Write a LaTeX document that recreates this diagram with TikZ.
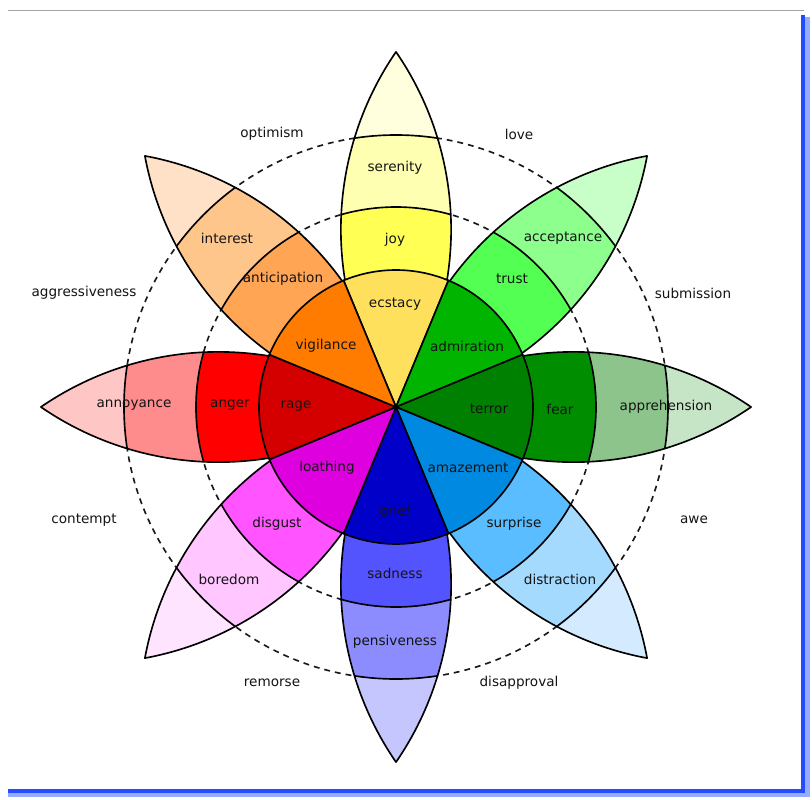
\documentclass[tikz,border=0pt]{standalone}
\usepackage{fontspec}
\setmainfont{DejaVu Sans}
\usepackage{tikz}
\definecolor{ecstacy}{RGB}{255,224,92}
\definecolor{joy}{RGB}{255,255,84}
\definecolor{serenity}{RGB}{255,255,177}
\definecolor{tipyellow}{RGB}{255,255,222}
\definecolor{admiration}{RGB}{0,180,0}
\definecolor{trust}{RGB}{84,255,84}
\definecolor{acceptance}{RGB}{140,255,140}
\definecolor{tipgreen}{RGB}{200,255,200}
\definecolor{terror}{RGB}{0,128,0}
\definecolor{fear}{RGB}{0,142,0}
\definecolor{apprehension}{RGB}{140,196,140}
\definecolor{tipsage}{RGB}{198,228,198}
\definecolor{amazement}{RGB}{0,137,224}
\definecolor{surprise}{RGB}{89,189,255}
\definecolor{distraction}{RGB}{165,218,255}
\definecolor{tipsky}{RGB}{212,235,255}
\definecolor{grief}{RGB}{0,0,200}
\definecolor{sadness}{RGB}{84,84,255}
\definecolor{pensiveness}{RGB}{140,140,255}
\definecolor{tipblue}{RGB}{198,198,255}
\definecolor{loathing}{RGB}{222,0,222}
\definecolor{disgust}{RGB}{255,84,255}
\definecolor{boredom}{RGB}{255,198,255}
\definecolor{tippink}{RGB}{255,228,255}
\definecolor{rage}{RGB}{212,0,0}
\definecolor{anger}{RGB}{255,0,0}
\definecolor{annoyance}{RGB}{255,140,140}
\definecolor{tipred}{RGB}{255,198,198}
\definecolor{vigilance}{RGB}{255,124,0}
\definecolor{anticipation}{RGB}{255,165,84}
\definecolor{interest}{RGB}{255,198,140}
\definecolor{tiporange}{RGB}{255,225,200}
\definecolor{framegray}{RGB}{165,165,165}
\definecolor{frameblue}{RGB}{35,75,255}
\definecolor{glowblue}{RGB}{150,172,255}
% one petal along +x, from the centre to its tip
\newcommand{\petalshape}{(0,0) arc[start angle=124.5, end angle=55.5, radius=313.5]
  arc[start angle=-55.5, end angle=-124.5, radius=313.5] -- cycle}

\begin{document}
\begin{tikzpicture}[
  x=0.03cm, y=0.03cm,
  outline/.style={draw=black, line width=1.4pt, line join=round},
  dashring/.style={draw=black!90, line width=1.4pt, dash pattern=on 5pt off 4.3pt},
  emo/.style={font=\fontsize{11.6}{13}\selectfont, text=black!92, inner sep=1pt},
  dyad/.style={font=\fontsize{11.6}{13}\selectfont, text=black!92, inner sep=1pt}
]
\fill[white] (-396,-392) rectangle (416,407);
\useasboundingbox (-396,-392) rectangle (416,407);

% window frame
\draw[framegray, line width=0.8pt] (-388,397) -- (408,397);
\draw[glowblue, line width=6pt] (-388,-386) -- (410,-386) -- (410,390);
\draw[frameblue, line width=3.5pt] (-388,-384) -- (407,-384) -- (407,392);

% dashed rings
\draw[dashring] (0,0) circle[radius=200];
\draw[dashring] (0,0) circle[radius=272];

% petals
\foreach \ang/\cmid/\cout/\ctip in {90/joy/serenity/tipyellow, 45/trust/acceptance/tipgreen,
    0/fear/apprehension/tipsage, -45/surprise/distraction/tipsky, -90/sadness/pensiveness/tipblue,
    -135/disgust/boredom/tippink, 180/anger/annoyance/tipred, 135/anticipation/interest/tiporange}{
  \begin{scope}[rotate=\ang]
    \fill[\ctip] \petalshape;
    \begin{scope}
      \clip \petalshape;
      \fill[\cout] (0,0) circle[radius=272];
      \fill[\cmid] (0,0) circle[radius=200];
      \draw[outline] (0,0) circle[radius=200] (0,0) circle[radius=272];
    \end{scope}
    \draw[outline] \petalshape;
  \end{scope}
}

% inner wedges
\foreach \ang/\cin in {90/ecstacy, 45/admiration, 0/terror, -45/amazement,
    -90/grief, -135/loathing, 180/rage, 135/vigilance}{
  \filldraw[fill=\cin, outline] (0,0) -- (\ang-22.5:137)
    arc[start angle=\ang-22.5, end angle=\ang+22.5, radius=137] -- cycle;
}

% emotion labels
\node[emo] (serenity) at (-1,239) {serenity};
\node[emo] (joy) at (-1,167) {joy};
\node[emo] (ecstacy) at (-1,103) {ecstacy};
\node[emo] (acceptance) at (167,169) {acceptance};
\node[emo] (trust) at (116,128) {trust};
\node[emo] (admiration) at (71,61) {admiration};
\node[emo] (apprehension) at (270,0) {apprehension};
\node[emo] (fear) at (164,-2) {fear};
\node[emo] (terror) at (93,-2) {terror};
\node[emo] (distraction) at (164,-172) {distraction};
\node[emo] (surprise) at (118,-117) {surprise};
\node[emo] (amazement) at (72,-61) {amazement};
\node[emo] (pensiveness) at (-1,-235) {pensiveness};
\node[emo] (sadness) at (-1,-166) {sadness};
\node[emo] (grief) at (-1,-105) {grief};
\node[emo] (boredom) at (-167,-172) {boredom};
\node[emo] (disgust) at (-119,-117) {disgust};
\node[emo] (loathing) at (-69,-61) {loathing};
\node[emo] (annoyance) at (-262,2) {annoyance};
\node[emo] (anger) at (-166,2) {anger};
\node[emo] (rage) at (-100,1) {rage};
\node[emo] (interest) at (-169,169) {interest};
\node[emo] (anticipation) at (-113,128) {anticipation};
\node[emo] (vigilance) at (-70,61) {vigilance};

% dyads between the petals
\node[dyad] (optimism) at (-124,273) {optimism};
\node[dyad] (love) at (123,273) {love};
\node[dyad] (submission) at (297,114) {submission};
\node[dyad] (awe) at (298,-113) {awe};
\node[dyad] (disapproval) at (123,-276) {disapproval};
\node[dyad] (remorse) at (-124,-276) {remorse};
\node[dyad] (contempt) at (-312,-113) {contempt};
\node[dyad] (aggressiveness) at (-312,114) {aggressiveness};
\end{tikzpicture}
\end{document}
